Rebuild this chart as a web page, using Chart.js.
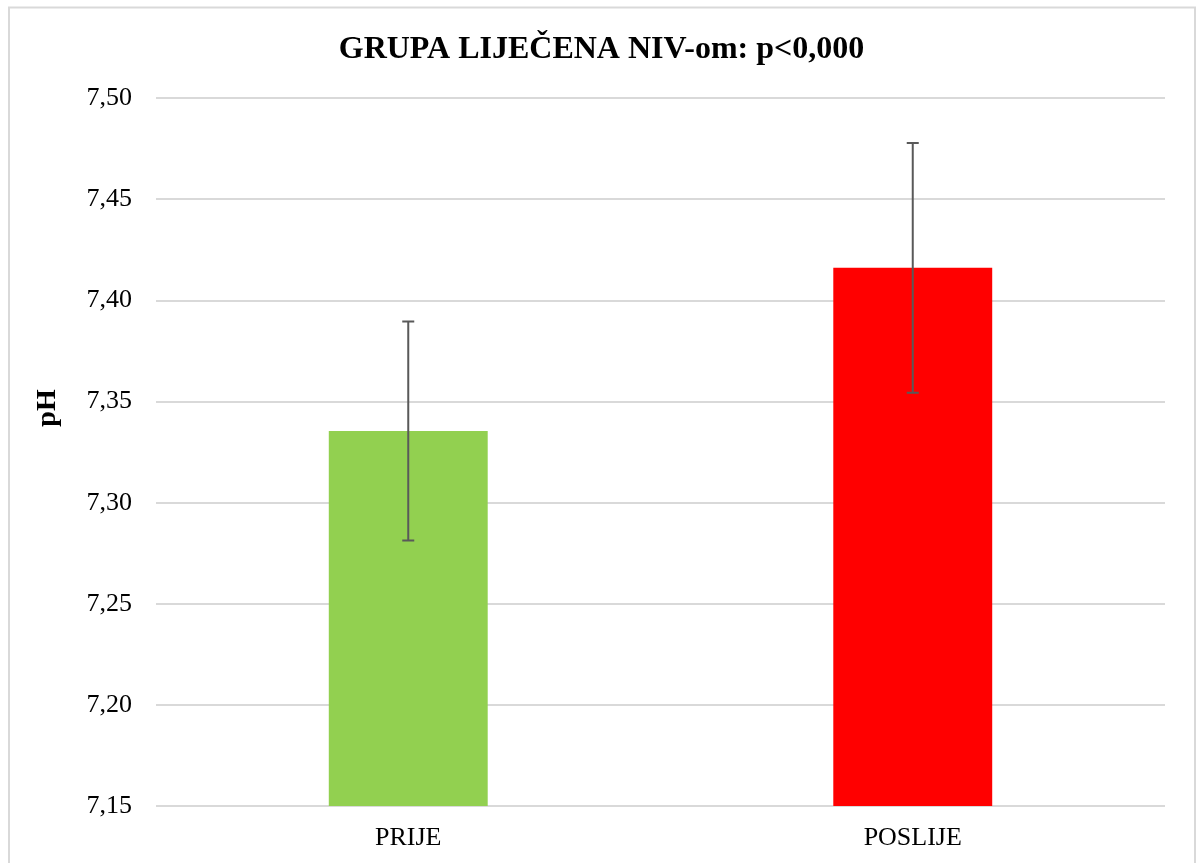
<!DOCTYPE html>
<html>
<head>
<meta charset="utf-8">
<script src="https://cdn.jsdelivr.net/npm/chart.js@4.4.0/dist/chart.umd.min.js"></script>
<style>
    body { margin: 0; background: #fff; }
    #wrap { position: relative; width: 1200px; height: 863px; }
</style>
</head>
<body>
<div id="wrap"><canvas id="phChart"></canvas></div>
<script>
const categories = ['PRIJE', 'POSLIJE'];
const phMeans = [7.3355, 7.4162];
const phErrors = [0.0542, 0.0618];
const barColors = ['#92D050', '#FF0000'];
const yTicks = [7.15, 7.20, 7.25, 7.30, 7.35, 7.40, 7.45, 7.50];

const serif = "'Liberation Serif', 'Times New Roman', serif";

// outer frame + background
const framePlugin = {
    id: 'frame',
    beforeDraw(chart) {
        const ctx = chart.ctx;
        ctx.save();
        ctx.fillStyle = '#fff';
        ctx.fillRect(0, 0, chart.width, chart.height);
        ctx.strokeStyle = '#d9d9d9';
        ctx.lineWidth = 2;
        ctx.strokeRect(9, 7.5, 1186, 900);
        ctx.restore();
    }
};

// error bars drawn from the data through the y scale
const errorBarPlugin = {
    id: 'errorBars',
    afterDatasetsDraw(chart) {
        const ctx = chart.ctx;
        const yScale = chart.scales.y;
        const meta = chart.getDatasetMeta(0);
        ctx.save();
        ctx.strokeStyle = '#595959';
        ctx.lineWidth = 2;
        meta.data.forEach((bar, i) => {
            const x = bar.x;
            const top = yScale.getPixelForValue(phMeans[i] + phErrors[i]);
            const bottom = yScale.getPixelForValue(phMeans[i] - phErrors[i]);
            ctx.beginPath();
            ctx.moveTo(x, top);
            ctx.lineTo(x, bottom);
            ctx.moveTo(x - 6, top);
            ctx.lineTo(x + 6, top);
            ctx.moveTo(x - 6, bottom);
            ctx.lineTo(x + 6, bottom);
            ctx.stroke();
        });
        ctx.restore();
    }
};

// y axis title "pH" (Excel places it slightly above the middle)
const yTitlePlugin = {
    id: 'yTitle',
    afterDraw(chart) {
        const ctx = chart.ctx;
        ctx.save();
        ctx.translate(48, 408);
        ctx.rotate(-Math.PI / 2);
        ctx.font = 'bold 28px ' + serif;
        ctx.fillStyle = '#000';
        ctx.textAlign = 'center';
        ctx.textBaseline = 'middle';
        ctx.fillText('pH', 0, 0);
        ctx.restore();
    }
};

const ctx = document.getElementById('phChart').getContext('2d');
new Chart(ctx, {
    type: 'bar',
    data: {
        labels: categories,
        datasets: [{
            label: 'pH',
            data: phMeans,
            backgroundColor: barColors,
            borderWidth: 0,
            categoryPercentage: 1,
            barPercentage: 0.315
        }]
    },
    options: {
        responsive: true,
        maintainAspectRatio: false,
        animation: false,
        layout: {
            padding: { top: 10, right: 35, bottom: 10, left: 38 }
        },
        scales: {
            x: {
                grid: { display: false, drawTicks: false },
                border: { display: false },
                afterFit(scale) {
                    scale.height = 47;
                },
                ticks: {
                    color: '#000',
                    padding: 17,
                    font: { family: serif, size: 26 }
                }
            },
            y: {
                min: 7.15,
                max: 7.50,
                afterBuildTicks(scale) {
                    scale.ticks = yTicks.map(v => ({ value: v }));
                },
                afterFit(scale) {
                    scale.width = 118;
                },
                grid: {
                    color: '#d9d9d9',
                    lineWidth: 2,
                    drawTicks: false
                },
                border: { display: false },
                ticks: {
                    color: '#000',
                    padding: 24,
                    font: { family: serif, size: 26 },
                    callback: function (value) {
                        return value.toFixed(2).replace('.', ',');
                    }
                }
            }
        },
        plugins: {
            legend: { display: false },
            tooltip: { enabled: false },
            title: {
                display: true,
                text: 'GRUPA LIJEČENA NIV-om: p<0,000',
                color: '#000',
                font: { family: serif, size: 32, weight: 'bold' },
                padding: { top: 21, bottom: 29 }
            }
        }
    },
    plugins: [framePlugin, errorBarPlugin, yTitlePlugin]
});
</script>
</body>
</html>
